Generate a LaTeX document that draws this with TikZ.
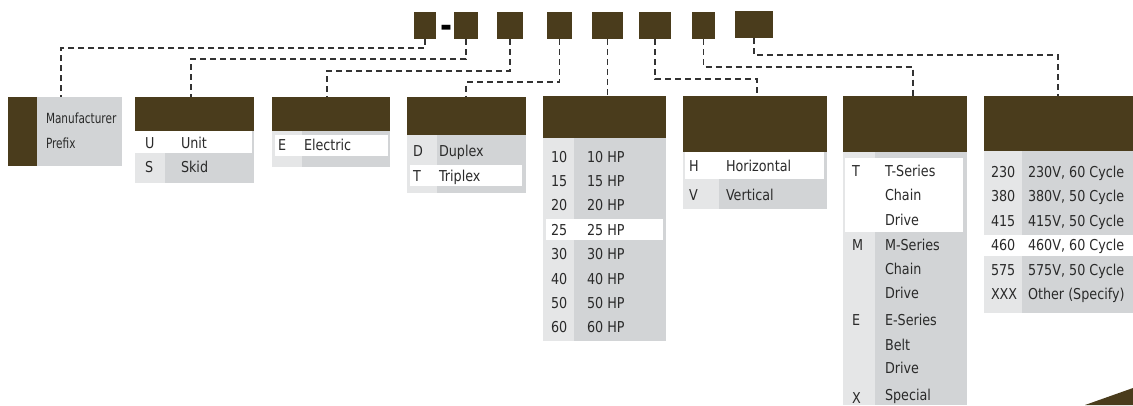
\documentclass[tikz,border=0pt]{standalone}
\usepackage{fontspec}
\usetikzlibrary{fit}
\newfontfamily\mainf[FakeStretch=0.85]{DejaVu Sans}
\newfontfamily\narrowf[FakeStretch=0.75]{DejaVu Sans}
\definecolor{brn}{HTML}{4A3C1C}
\definecolor{cellg}{HTML}{D2D4D6}
\definecolor{codeg}{HTML}{E5E6E7}
\definecolor{txtc}{HTML}{2A2A2A}
\definecolor{dashc}{HTML}{333333}
\begin{document}
\begin{tikzpicture}[x=1pt,y=-1pt,
  blk/.style={inner sep=0pt,outer sep=0pt,fill=brn},
  cellbox/.style={inner sep=0pt,outer sep=0pt,fill=cellg},
  codebox/.style={inner sep=0pt,outer sep=0pt,fill=codeg},
  whitebox/.style={inner sep=0pt,outer sep=0pt,fill=white},
  txt/.style={anchor=base west,inner sep=0pt,outer sep=0pt,text=txtc,font=\mainf\fontsize{15}{17}\selectfont},
  mtxt/.style={anchor=base west,inner sep=0pt,outer sep=0pt,text=txtc,font=\narrowf\fontsize{14}{16}\selectfont},
  link/.style={draw=dashc,line width=1.2pt,dash pattern=on 6pt off 4pt}]
\useasboundingbox (0,0) rectangle (1133,405);
% top code boxes
\node[blk,fit={(414,12) (436,39)}] (t1) {};
\node[anchor=base,inner sep=0pt,text=black,font=\mainf\bfseries\fontsize{34}{34}\selectfont] (hy) at (446,37) {-};
\node[blk,fit={(454,12) (478,39)}] (t2) {};
\node[blk,fit={(497,12) (523,39)}] (t3) {};
\node[blk,fit={(547,12) (572,39)}] (t4) {};
\node[blk,fit={(592,12) (623,39)}] (t5) {};
\node[blk,fit={(639,12) (671,39)}] (t6) {};
\node[blk,fit={(692,12) (715,39)}] (t7) {};
\node[blk,fit={(735,11) (773,38)}] (t8) {};
% manufacturer prefix
\node[blk,fit={(8,97) (37,166)}] (mdark) {};
\node[cellbox,fit={(37,97) (122,166)}] (mbody) {};
\node[mtxt] (mt1) at (46,123) {Manufacturer};
\node[mtxt] (mt2) at (46,148) {Prefix};
% unit / skid
\node[blk,fit={(135,97) (254,131)}] (h2) {};
\node[codebox,fit={(135,131) (165,183)}] (c2) {};
\node[cellbox,fit={(165,131) (254,183)}] (l2) {};
\node[whitebox,fit={(135,131) (252,153)}] (w2) {};
\node[txt] (u1) at (145,148) {U};
\node[txt] (u2) at (181,148) {Unit};
\node[txt] (s1) at (145,172) {S};
\node[txt] (s2) at (181,172) {Skid};
% electric
\node[blk,fit={(272,97) (390,131)}] (h3) {};
\node[codebox,fit={(272,131) (302,167)}] (c3) {};
\node[cellbox,fit={(302,131) (390,167)}] (l3) {};
\node[whitebox,fit={(275,135) (388,156)}] (w3) {};
\node[txt] (e1) at (278,150.5) {E};
\node[txt] (e2) at (304,150.5) {Electric};
% duplex / triplex
\node[blk,fit={(407,97) (526,135)}] (h4) {};
\node[codebox,fit={(407,135) (437,193)}] (c4) {};
\node[cellbox,fit={(437,135) (526,193)}] (l4) {};
\node[whitebox,fit={(410,165) (522,186)}] (w4) {};
\node[txt] (d1) at (413,156.5) {D};
\node[txt] (d2) at (439,156.5) {Duplex};
\node[txt] (tr1) at (413,181.5) {T};
\node[txt] (tr2) at (439,181.5) {Triplex};
% horsepower
\node[blk,fit={(543,96) (666,138)}] (h5) {};
\node[codebox,fit={(543,138) (574,341)}] (c5) {};
\node[cellbox,fit={(574,138) (666,341)}] (l5) {};
\node[whitebox,fit={(546,219) (663,240)}] (w5) {};
\foreach \c [count=\i from 0] in {10,15,20,25,30,40,50,60}{
  \node[txt] (hpc\i) at (551,162.2+24.37*\i) {\c};
  \node[txt] (hpl\i) at (587,162.2+24.37*\i) {\c\ HP};
}
% horizontal / vertical
\node[blk,fit={(683,96) (827,152)}] (h6) {};
\node[codebox,fit={(683,152) (719,209)}] (c6) {};
\node[cellbox,fit={(719,152) (827,209)}] (l6) {};
\node[whitebox,fit={(685,152) (824,179)}] (w6) {};
\node[txt] (hv1) at (689,171.5) {H};
\node[txt] (hv2) at (726,171.5) {Horizontal};
\node[txt] (hv3) at (689,200.5) {V};
\node[txt] (hv4) at (726,200.5) {Vertical};
% drive
\node[blk,fit={(843,96) (967,152)}] (h7) {};
\node[codebox,fit={(843,152) (875,405)}] (c7) {};
\node[cellbox,fit={(875,152) (967,405)}] (l7) {};
\node[whitebox,fit={(845,158) (963,232)}] (w7) {};
\node[txt] (dr1) at (852,176.5) {T};
\node[txt] (dr2) at (885,176.5) {T-Series};
\node[txt] (dr3) at (885,200.5) {Chain};
\node[txt] (dr4) at (885,225.5) {Drive};
\node[txt] (dr5) at (852,250.5) {M};
\node[txt] (dr6) at (885,250.5) {M-Series};
\node[txt] (dr7) at (885,274.5) {Chain};
\node[txt] (dr8) at (885,298.5) {Drive};
\node[txt] (dr9) at (852,325.5) {E};
\node[txt] (dr10) at (885,325.5) {E-Series};
\node[txt] (dr11) at (885,350.5) {Belt};
\node[txt] (dr12) at (885,373.5) {Drive};
\node[txt] (dr13) at (852,403.5) {X};
\node[txt] (dr14) at (885,400.5) {Special};
% voltage
\node[blk,fit={(984,96) (1133,151)}] (h8) {};
\node[codebox,fit={(984,151) (1022,313)}] (c8) {};
\node[cellbox,fit={(1022,151) (1133,313)}] (l8) {};
\node[whitebox,fit={(984,235) (1133,256)}] (w8) {};
\foreach \c/\l [count=\i from 0] in {230/{230V, 60 Cycle},380/{380V, 50 Cycle},415/{415V, 50 Cycle},460/{460V, 60 Cycle},575/{575V, 50 Cycle},XXX/{Other (Specify)}}{
  \node[txt] (vc\i) at (991,177.2+24.5*\i) {\c};
  \node[txt] (vl\i) at (1028,177.2+24.5*\i) {\l};
}
% corner wedge
\fill[brn] (1085,405) -- (1133,388) -- (1133,405) -- cycle;
% connectors
\coordinate (j1) at (61,48);
\coordinate (j2) at (191,59);
\coordinate (j3) at (327,71);
\coordinate (j4) at (466,82);
\coordinate (j6) at (757,79);
\coordinate (j7) at (913,67);
\coordinate (j8) at (1058,55);
\draw[link] (t1.south) |- (j1) -- (j1 |- mbody.north);
\draw[link] (t2.south) |- (j2) -- (j2 |- h2.north);
\draw[link] (t3.south) |- (j3) -- (j3 |- h3.north);
\draw[link] (t4.south) |- (j4) -- (j4 |- h4.north);
\draw[link] (t5.south) -- (t5.south |- h5.north);
\draw[link] (t6.south) |- (j6) -- (j6 |- h6.north);
\draw[link] (t7.south) |- (j7) -- (j7 |- h7.north);
\draw[link] (t8.south) |- (j8) -- (j8 |- h8.north);
\end{tikzpicture}
\end{document}
